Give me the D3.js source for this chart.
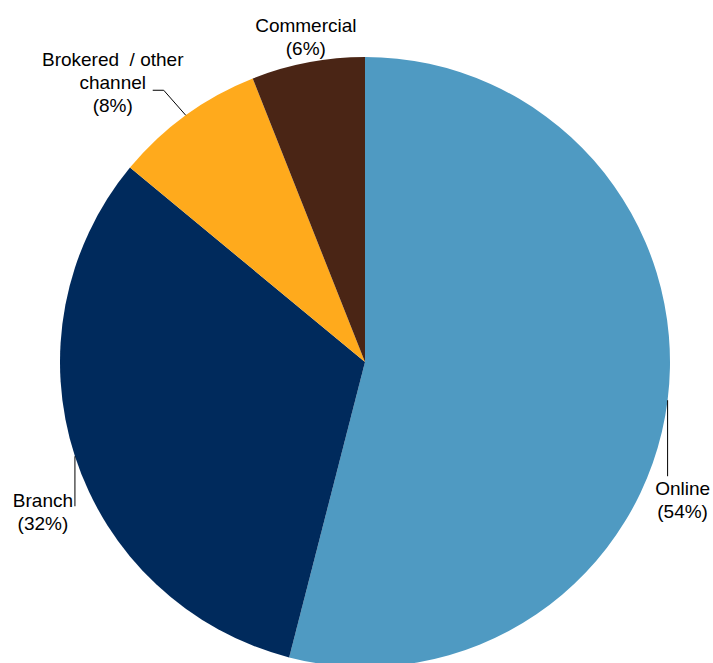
<!DOCTYPE html>
<html>
<head>
<meta charset="utf-8">
<script src="https://cdn.jsdelivr.net/npm/d3@7"></script>
<style>
  body { margin: 0; background: #fff; }
  text { font-family: "Liberation Sans", Arial, sans-serif; font-size: 19px; fill: #000; }
</style>
</head>
<body>
<svg id="chart" width="713" height="663"></svg>
<script>
// chart data
var categories = ["Online", "Branch", "Brokered  / other channel", "Commercial"];
var labelLines = [["Online"], ["Branch"], ["Brokered  / other", "channel"], ["Commercial"]];
var shares = [54, 32, 8, 6];
var colours = ["#4F9AC2", "#002A5C", "#FFAA1C", "#4A2515"];

var cx = 365, cy = 362, radius = 305;

var svg = d3.select("#chart");
var g = svg.append("g").attr("transform", "translate(" + cx + "," + cy + ")");

var pie = d3.pie().sort(null).value(function (d) { return d; });
var arcs = pie(shares);
var arc = d3.arc().innerRadius(0).outerRadius(radius);

var color = d3.scaleOrdinal().domain(categories).range(colours);

g.selectAll("path.slice")
  .data(arcs)
  .enter().append("path")
  .attr("class", "slice")
  .attr("d", arc)
  .attr("fill", function (d, i) { return color(categories[i]); });

// point on the rim at the middle of a slice
function rimPoint(d) {
  var a = (d.startAngle + d.endAngle) / 2;
  return [radius * Math.sin(a), -radius * Math.cos(a)];
}

// label layout: leader path offsets from the rim point, then text baseline
var layout = [
  { leader: [[0, 0], [0, 76]], text: [15, 95] },
  { leader: [[0, 0], [0, 50]], text: [-32, 51] },
  { leader: [[0, 0], [-22, -25], [-33, -25]], text: [-73, -49] },
  { leader: null, text: [-2, -30] }
];

arcs.forEach(function (d, i) {
  var p = rimPoint(d);
  var L = layout[i];
  if (L.leader) {
    g.append("path")
      .attr("d", d3.line()(L.leader.map(function (o) { return [p[0] + o[0], p[1] + o[1]]; })))
      .attr("fill", "none")
      .attr("stroke", "#000")
      .attr("stroke-width", 1);
  }
  var lines = labelLines[i].concat(["(" + shares[i] + "%)"]);
  var t = g.append("text")
    .attr("text-anchor", "middle")
    .attr("x", p[0] + L.text[0])
    .attr("y", p[1] + L.text[1]);
  lines.forEach(function (s, k) {
    t.append("tspan")
      .attr("x", p[0] + L.text[0])
      .attr("dy", k === 0 ? 0 : 23)
      .attr("xml:space", "preserve")
      .text(s);
  });
});
</script>
</body>
</html>
